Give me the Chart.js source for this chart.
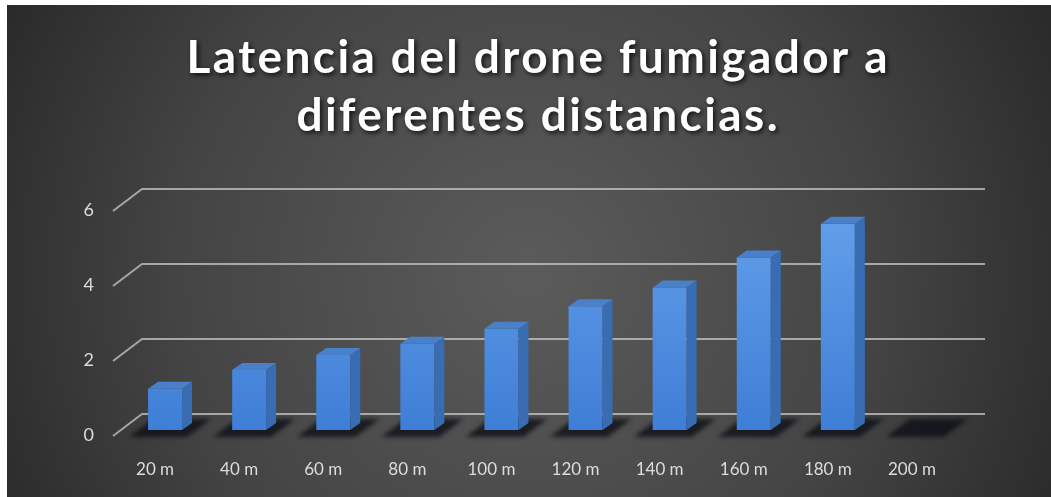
<!DOCTYPE html>
<html>
<head>
<meta charset="utf-8">
<script src="https://cdn.jsdelivr.net/npm/chart.js@4.4.0/dist/chart.umd.min.js"></script>
<style>
  html, body { margin: 0; padding: 0; background: #ffffff; }
  #wrap { position: absolute; left: 7px; top: 5px; width: 1044px; height: 492px; }
</style>
</head>
<body>
<div id="wrap"><canvas id="grafica" width="1044" height="492"></canvas></div>
<script>
const tituloLineas = ['Latencia del drone fumigador a', 'diferentes distancias.'];
const distancias = ['20 m', '40 m', '60 m', '80 m', '100 m', '120 m', '140 m', '160 m', '180 m', '200 m'];
const latencias = [1.1, 1.6, 2.0, 2.3, 2.7, 3.3, 3.8, 4.6, 5.5, 0];
const ticksY = [0, 2, 4, 6];

// fondo, sombras del piso, lineas de cuadricula en perspectiva y titulo
const fondo3d = {
  id: 'fondo3d',
  beforeDraw(chart) {
    const { ctx, width, height, chartArea } = chart;
    const yScale = chart.scales.y;

    const g = ctx.createRadialGradient(520, 270, 20, 520, 270, 620);
    g.addColorStop(0, '#5a5a5a');
    g.addColorStop(0.55, '#444444');
    g.addColorStop(1, '#262626');
    ctx.save();
    ctx.fillStyle = g;
    ctx.fillRect(0, 0, width, height);

    // sombras bajo cada columna
    const base = yScale.getPixelForValue(0);
    ctx.filter = 'blur(2px)';
    chart.getDatasetMeta(0).data.forEach((bar) => {
      const cx = bar.x;
      ctx.beginPath();
      ctx.moveTo(cx - 36, base + 7);
      ctx.lineTo(cx + 22, base + 7);
      ctx.lineTo(cx + 46, base - 11);
      ctx.lineTo(cx - 12, base - 11);
      ctx.closePath();
      ctx.fillStyle = 'rgba(10, 12, 20, 0.75)';
      ctx.fill();
    });
    ctx.filter = 'none';

    // cuadricula
    ctx.strokeStyle = 'rgba(200, 200, 200, 0.75)';
    ctx.lineWidth = 2;
    ticksY.forEach((v) => {
      const y = yScale.getPixelForValue(v);
      ctx.beginPath();
      ctx.moveTo(chartArea.left - 10, y + 6);
      ctx.lineTo(chartArea.left + 19, y - 16);
      ctx.lineTo(chartArea.right + 21, y - 16);
      ctx.stroke();
    });

    // titulo
    ctx.font = 'bold 46px Lato';
    ctx.fillStyle = '#ffffff';
    ctx.textBaseline = 'alphabetic';
    ctx.textAlign = 'left';
    const anchoBase = ctx.measureText(tituloLineas[0]).width;
    const espacio = Math.max(0, (701 - anchoBase) / (tituloLineas[0].length - 1));
    ctx.letterSpacing = espacio.toFixed(2) + 'px';
    ctx.shadowColor = 'rgba(0, 0, 0, 0.8)';
    ctx.shadowBlur = 5;
    ctx.shadowOffsetX = 2;
    ctx.shadowOffsetY = 2;
    const baselines = [68, 126];
    tituloLineas.forEach((linea, i) => {
      const w = ctx.measureText(linea).width - espacio;
      ctx.fillText(linea, 530 - w / 2, baselines[i]);
    });
    ctx.restore();
  },
  afterDatasetsDraw(chart) {
    const { ctx } = chart;
    const dx = 10, dy = -7;
    ctx.save();
    chart.getDatasetMeta(0).data.forEach((bar, i) => {
      if (!latencias[i]) return;
      const { x, y, width, base } = bar.getProps(['x', 'y', 'width', 'base'], true);
      const x0 = x - width / 2, x1 = x + width / 2;
      // cara lateral
      ctx.beginPath();
      ctx.moveTo(x1, y);
      ctx.lineTo(x1 + dx, y + dy);
      ctx.lineTo(x1 + dx, base + dy);
      ctx.lineTo(x1, base);
      ctx.closePath();
      ctx.fillStyle = '#386cb3';
      ctx.fill();
      // cara superior
      ctx.beginPath();
      ctx.moveTo(x0, y);
      ctx.lineTo(x1, y);
      ctx.lineTo(x1 + dx, y + dy);
      ctx.lineTo(x0 + dx, y + dy);
      ctx.closePath();
      ctx.fillStyle = '#4a7fc9';
      ctx.fill();
    });
    ctx.restore();
  }
};

new Chart(document.getElementById('grafica'), {
  type: 'bar',
  data: {
    labels: distancias,
    datasets: [{
      label: 'Latencia',
      data: latencias,
      backgroundColor: (c) => {
        const area = c.chart.chartArea;
        if (!area) return '#4f8ee0';
        const g = c.chart.ctx.createLinearGradient(0, area.top, 0, area.bottom);
        g.addColorStop(0, '#64a0ea');
        g.addColorStop(1, '#3f7ed6');
        return g;
      },
      borderWidth: 0,
      barPercentage: 0.404,
      categoryPercentage: 1
    }]
  },
  options: {
    responsive: false,
    animation: false,
    layout: { padding: { top: 200, right: 87, bottom: 0, left: 0 } },
    plugins: {
      legend: { display: false },
      title: { display: false },
      tooltip: { enabled: false }
    },
    scales: {
      x: {
        grid: { display: false, drawTicks: false },
        border: { display: false },
        ticks: {
          color: '#dcdcdc',
          font: { family: 'Lato', size: 17 },
          padding: 29,
          labelOffset: -10,
          maxRotation: 0
        },
        afterFit: (s) => { s.height = 67; }
      },
      y: {
        min: 0,
        max: 6,
        grid: { display: false, drawTicks: false },
        border: { display: false },
        afterBuildTicks: (s) => { s.ticks = ticksY.map((v) => ({ value: v })); },
        ticks: {
          color: '#dcdcdc',
          font: { family: 'Lato', size: 18 },
          padding: 29,
          labelOffset: 5
        },
        afterFit: (s) => { s.width = 116; }
      }
    }
  },
  plugins: [fondo3d]
});
</script>
</body>
</html>
